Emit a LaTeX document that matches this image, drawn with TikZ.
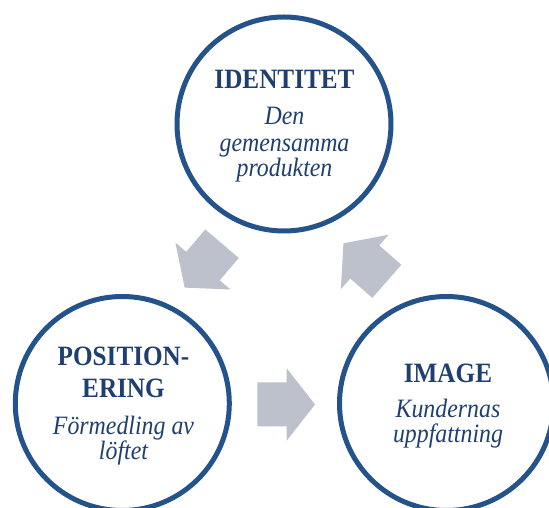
\documentclass[tikz,border=0pt]{standalone}
\usepackage{fontspec}
\setmainfont{Liberation Serif}
\newfontfamily\headfont[FakeStretch=0.9]{Liberation Serif}
\begin{document}
\begin{tikzpicture}[x=1pt,y=1pt,
  ringcol/.style={draw=ring, line width=5pt},
  headline/.style={anchor=base, inner sep=0pt, text=navytext,
    font=\headfont\fontsize{28}{32}\selectfont\bfseries},
  subline/.style={anchor=base, inner sep=0pt, text=navytext,
    font=\headfont\fontsize{26.5}{28}\selectfont\itshape},
  cyclearrow/.pic={
    \fill[arrowfill] (-28.9,-22) -- (0.5,-22) -- (0.5,-36.2) -- (28.8,0)
      -- (0.5,36.2) -- (0.5,22) -- (-28.9,22) -- cycle;
  }]
\definecolor{ring}{HTML}{23538A}
\definecolor{navytext}{HTML}{1F3F70}
\definecolor{arrowfill}{HTML}{BCC1CC}
\useasboundingbox (0,0) rectangle (549,508);

% the three rings
\draw[ringcol] (284,384) circle[radius=107];
\draw[ringcol] (122.3,104.5) circle[radius=107];
\draw[ringcol] (446.5,104.5) circle[radius=107];

% block arrows between the rings
\pic[rotate=229.6] at (203.3,242.3) {cyclearrow};
\pic at (286.2,103.5) {cyclearrow};
\pic[rotate=138.8] at (365.1,245.7) {cyclearrow};

% IDENTITET
\node[headline] (idhead) at (284.5,419.5) {IDENTITET};
\node[subline] (idsub1) at (284.5,383.5) {Den};
\node[subline] (idsub2) at (284.5,356.5) {gemensamma};
\node[subline] (idsub3) at (284.5,331.5) {produkten};

% POSITIONERING
\node[headline] (poshead1) at (123.5,142) {POSITION-};
\node[headline] (poshead2) at (123.5,110) {ERING};
\node[subline] (possub1) at (123.5,73) {Förmedling av};
\node[subline] (possub2) at (123.5,48) {löftet};

% IMAGE
\node[headline] (imghead) at (448,125) {IMAGE};
\node[subline] (imgsub1) at (448,90) {Kundernas};
\node[subline] (imgsub2) at (448,65) {uppfattning};
\end{tikzpicture}
\end{document}
